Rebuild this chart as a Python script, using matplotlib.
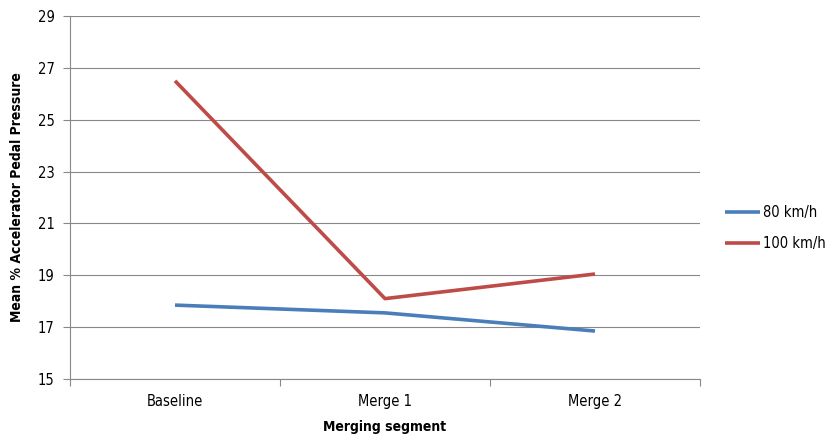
import matplotlib
matplotlib.use("Agg")
import matplotlib.pyplot as plt
from matplotlib.ticker import FixedLocator

categories = ["Baseline", "Merge 1", "Merge 2"]
speed_80 = [17.85, 17.55, 16.85]
speed_100 = [26.5, 18.1, 19.05]
yticks = [15, 17, 19, 21, 23, 25, 27, 29]

BLUE = "#4a7ebb"
RED = "#be4b48"
GRID = "#888888"

plt.rcParams["font.family"] = ["DejaVu Sans"]
plt.rcParams["font.stretch"] = "condensed"

fig = plt.figure(figsize=(8.33, 4.38), dpi=100)
ax = fig.add_axes([70 / 833, 1 - 379 / 438, 630 / 833, 363 / 438])

x = list(range(len(categories)))
l1, = ax.plot(x, speed_80, color=BLUE, linewidth=2.6, solid_capstyle="butt")
l2, = ax.plot(x, speed_100, color=RED, linewidth=2.6, solid_capstyle="butt")

ax.set_xlim(-0.5, len(categories) - 0.5)
ax.set_ylim(15, 29)
ax.set_yticks(yticks)
ax.yaxis.grid(True, color=GRID, linewidth=0.8)
ax.set_axisbelow(True)

ax.set_xticks(x)
ax.set_xticklabels(categories, fontsize=10.5)
ax.xaxis.set_minor_locator(FixedLocator([-0.5, 0.5, 1.5, 2.5]))
ax.tick_params(axis="x", which="major", length=0, pad=11)
ax.tick_params(axis="x", which="minor", length=5, color=GRID, width=0.8)
ax.tick_params(axis="y", length=5, color=GRID, width=0.8, labelsize=10.5, pad=6)

for side in ["top", "right"]:
    ax.spines[side].set_visible(False)
for side in ["left", "bottom"]:
    ax.spines[side].set_color(GRID)
    ax.spines[side].set_linewidth(0.8)

ax.set_xlabel("Merging segment", fontsize=10, fontweight="bold", labelpad=8)
ax.set_ylabel("Mean % Accelerator Pedal Pressure", fontsize=10,
              fontweight="bold", labelpad=10)

fig.legend([l1, l2], ["80 km/h", "100 km/h"], loc="center left",
           bbox_to_anchor=(719 / 833, 1 - 228 / 438), frameon=False,
           fontsize=10.5, handlelength=2.4, handletextpad=0.2,
           labelspacing=1.05, borderaxespad=0)

fig.savefig("out.png", dpi=100, facecolor="white")
